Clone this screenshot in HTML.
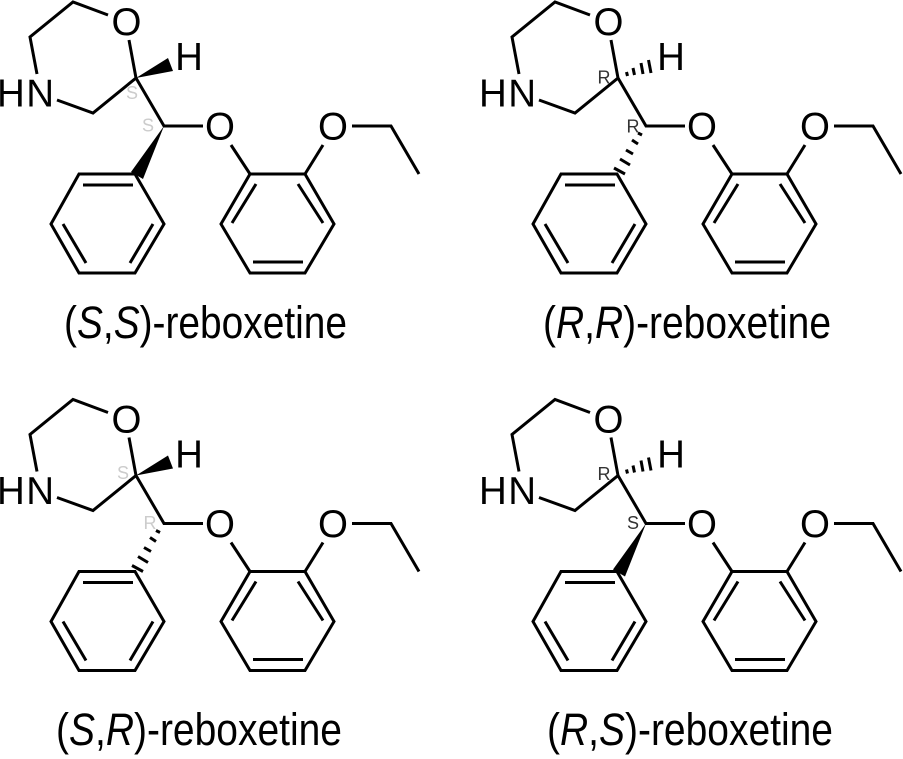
<!DOCTYPE html>
<html><head><meta charset="utf-8"><style>
html,body{margin:0;padding:0;background:#fff}
svg{display:block}
text{font-family:"Liberation Sans",sans-serif;fill:#000}
.a{font-size:38.5px;text-anchor:middle}
.n{font-size:38.5px;letter-spacing:1.5px}
.c{font-size:45px}
.s{font-size:18px;text-anchor:middle}
</style></head><body>
<svg width="903" height="759" viewBox="0 0 903 759" xmlns="http://www.w3.org/2000/svg">
<defs>
<g id="core" fill="none" stroke="#000" stroke-width="3" stroke-linejoin="miter">
<polyline points="108,15 73,2 30,37 37,74"/>
<polyline points="57,100 93,113 136,78 129,40"/>
<polyline points="136,78 164,126 203,126"/>
<line x1="231" y1="145" x2="250" y2="174"/>
<polygon points="250,174 305,174 334,224 305,273 250,273 221,224"/>
<line x1="256" y1="184" x2="232" y2="223"/>
<line x1="298" y1="184" x2="323" y2="223"/>
<line x1="253" y1="262" x2="303" y2="262"/>
<line x1="305" y1="174" x2="323" y2="145"/>
<polyline points="352,126 391,126 419,174"/>
<polygon points="79,174 135,174 164,224 135,273 79,273 51,224"/>
<line x1="83" y1="185" x2="133" y2="185"/>
<line x1="63" y1="224" x2="86" y2="263"/>
<line x1="153" y1="224" x2="130" y2="263"/>
</g>
<g id="wH"><polygon points="136,78 168,58 173,71" fill="#000"/></g>
<g id="wP"><polygon points="164,126 131,172 143,179" fill="#000"/></g>
<g id="hH" stroke="#000" stroke-width="3" fill="none">
<line x1="144.5" y1="72" x2="145.5" y2="76"/>
<line x1="151" y1="68" x2="152.5" y2="75"/>
<line x1="159" y1="63" x2="161" y2="74"/>
<line x1="166.5" y1="60" x2="169" y2="73"/>
</g>
<g id="hP" stroke="#000" stroke-width="3" fill="none">
<line x1="132" y1="168" x2="143" y2="174"/>
<line x1="138" y1="159" x2="148" y2="165"/>
<line x1="144" y1="150" x2="151" y2="154"/>
<line x1="150" y1="140" x2="156" y2="144"/>
<line x1="156" y1="133" x2="160" y2="135"/>
</g>
</defs>

<g>
<use href="#core"/><use href="#wH"/><use href="#wP"/>
<text class="a" x="126.5" y="35">O</text>
<text class="a" x="189" y="70">H</text>
<text class="n" x="-3" y="106.7">HN</text>
<text class="a" x="220" y="139.5">O</text>
<text class="a" x="333" y="139.5">O</text>
<text class="s" x="132" y="99" style="fill:#ccc">S</text>
<text class="s" x="148" y="131.5" style="fill:#ccc">S</text>
<text class="c" x="64" y="338" textLength="283" lengthAdjust="spacingAndGlyphs">(<tspan font-style="italic">S</tspan>,<tspan font-style="italic">S</tspan>)-reboxetine</text>
</g>

<g>
<g transform="translate(482,0)">
<use href="#core"/><use href="#hH"/><use href="#hP"/>
<text class="a" x="126.5" y="35">O</text>
<text class="a" x="189" y="70">H</text>
<text class="n" x="-3" y="106.7">HN</text>
<text class="a" x="220" y="139.5">O</text>
<text class="a" x="333" y="139.5">O</text>
<text class="s" x="122" y="83.5" style="fill:#333">R</text>
<text class="s" x="151" y="132.5" style="fill:#333">R</text>
</g>
<text class="c" x="543" y="338" textLength="288" lengthAdjust="spacingAndGlyphs">(<tspan font-style="italic">R</tspan>,<tspan font-style="italic">R</tspan>)-reboxetine</text>
</g>

<g>
<g transform="translate(0,397.5)">
<use href="#core"/><use href="#wH"/><use href="#hP"/>
<text class="a" x="126.5" y="35">O</text>
<text class="a" x="189" y="70">H</text>
<text class="n" x="-3" y="106.7">HN</text>
<text class="a" x="220" y="139.5">O</text>
<text class="a" x="333" y="139.5">O</text>
<text class="s" x="123" y="81.5" style="fill:#ccc">S</text>
<text class="s" x="150" y="131.5" style="fill:#ccc">R</text>
</g>
<text class="c" x="56" y="745" textLength="286" lengthAdjust="spacingAndGlyphs">(<tspan font-style="italic">S</tspan>,<tspan font-style="italic">R</tspan>)-reboxetine</text>
</g>

<g>
<g transform="translate(482,397.5)">
<use href="#core"/><use href="#hH"/><use href="#wP"/>
<text class="a" x="126.5" y="35">O</text>
<text class="a" x="189" y="70">H</text>
<text class="n" x="-3" y="106.7">HN</text>
<text class="a" x="220" y="139.5">O</text>
<text class="a" x="333" y="139.5">O</text>
<text class="s" x="122" y="82.5" style="fill:#333">R</text>
<text class="s" x="151" y="131.5" style="fill:#333">S</text>
</g>
<text class="c" x="547" y="745" textLength="286" lengthAdjust="spacingAndGlyphs">(<tspan font-style="italic">R</tspan>,<tspan font-style="italic">S</tspan>)-reboxetine</text>
</g>
</svg>
</body></html>
